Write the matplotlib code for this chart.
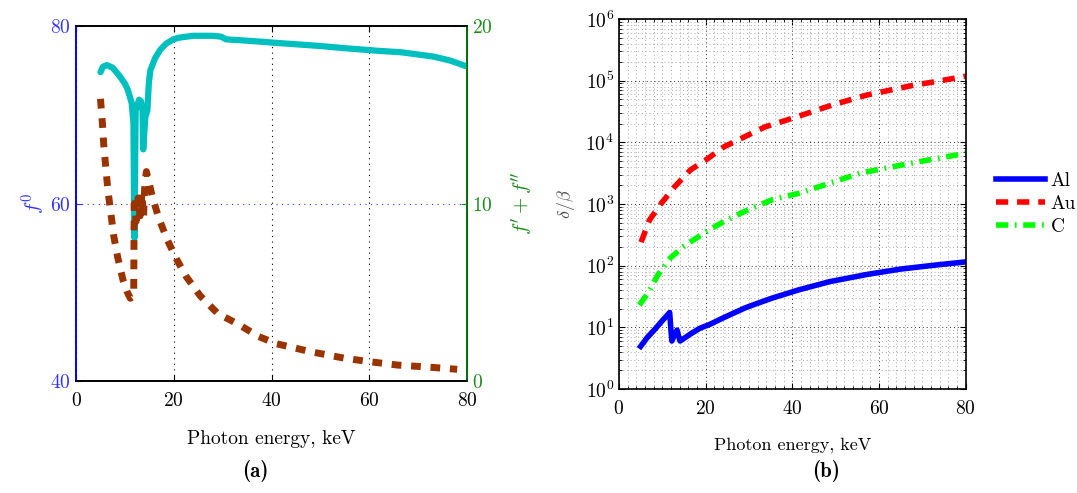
import numpy as np
import matplotlib
matplotlib.use('Agg')
from matplotlib import pyplot as plt
from matplotlib.ticker import MultipleLocator, LogLocator, NullFormatter

plt.rcParams['font.family'] = 'serif'
plt.rcParams['font.serif'] = ['cmr10', 'DejaVu Serif']
plt.rcParams['mathtext.fontset'] = 'cm'
plt.rcParams['axes.formatter.use_mathtext'] = True

# (a) f0 (left axis) and f'+f'' (right axis)
energy_f0 = [5.0, 5.5, 6.3, 7.5, 9.0, 10.0, 10.6, 11.4, 11.75, 11.85, 11.95, 12.05, 12.2,
             12.9, 13.3, 13.6, 13.75, 13.9, 14.2, 14.6, 14.9, 15.2, 16.2, 17.2, 18.4,
             19.9, 21.2, 24.0, 28.0, 29.7, 30.7, 35.0, 41.0, 50.0, 55.0, 62.0, 66.4,
             69.2, 73.2, 76.6, 79.7]
f0 = [74.8, 75.4, 75.6, 75.3, 74.3, 73.5, 72.8, 71.3, 69.0, 62.0, 56.1, 62.0, 70.5,
      71.7, 71.5, 70.5, 66.1, 67.5, 69.8, 70.5, 73.6, 75.0, 76.4, 77.3, 78.0,
      78.5, 78.7, 78.9, 78.9, 78.8, 78.5, 78.35, 78.1, 77.75, 77.5, 77.2, 77.05,
      76.85, 76.55, 76.1, 75.5]

energy_ff = [5.0, 5.4, 5.7, 6.1, 6.5, 7.1, 7.7, 8.5, 9.6, 10.5, 11.1, 11.8, 11.9, 12.3,
             12.7, 13.1, 13.5, 13.8, 14.1, 14.4, 15.0, 15.6, 16.9, 18.6, 20.5, 22.5,
             25.4, 29.0, 33.2, 37.4, 41.0, 48.0, 55.0, 60.0, 65.7, 72.7, 78.0]
ff = [15.9, 14.5, 13.2, 12.0, 10.8, 9.5, 8.2, 7.0, 5.7, 5.0, 4.66, 4.8, 10.0, 9.0,
      10.3, 9.3, 10.6, 9.2, 11.2, 11.8, 11.1, 10.4, 9.2, 8.0, 6.9, 5.9,
      4.8, 3.8, 3.2, 2.5, 2.1, 1.65, 1.28, 1.09, 0.9, 0.77, 0.66]

# (b) delta/beta
energy_al = [5.0, 6.5, 8.3, 10.0, 11.7, 12.0, 12.2, 12.8, 13.4, 13.8, 14.1, 15.0, 16.5,
             18.6, 21.0, 24.3, 29.0, 31.6, 35.3, 41.5, 48.6, 57.2, 65.0, 72.9, 80.0]
al = [4.9, 6.8, 9.3, 12.8, 17.4, 9.0, 6.0, 7.5, 9.0, 7.0, 6.0, 6.6, 7.8,
      9.6, 11.2, 14.5, 20.5, 24.0, 29.7, 40.5, 55.0, 72.0, 88.0, 102.0, 115.0]

energy_au = [5.1, 7.05, 9.8, 12.9, 16.5, 20.0, 24.3, 29.0, 33.7, 40.0, 44.7, 49.4,
             57.2, 63.5, 68.2, 72.9, 77.6, 80.0]
au = [240, 550, 1030, 1920, 3570, 5150, 8500, 12300, 17800, 24500, 31600, 40700,
      58500, 72400, 85000, 96000, 110000, 118000]

energy_c = [4.7, 6.7, 9.0, 11.8, 14.9, 19.6, 24.3, 29.0, 35.3, 41.5, 48.6, 55.6,
            63.5, 71.3, 80.0]
c = [23, 36, 71, 132, 204, 337, 525, 760, 1170, 1490, 2170, 3160, 4060, 5150, 6640]

fig = plt.figure(figsize=(10.77, 4.93), dpi=100)

# ---------- (a) ----------
ax = fig.add_axes([0.0706, 0.2272, 0.363, 0.7200])
ax2 = ax.twinx()

ax.plot(energy_f0, f0, color='#00BFBF', lw=4.5, solid_capstyle='round', zorder=3)
ax2.plot(energy_ff, ff, color='#993300', lw=5, ls=(0, (1.4, 1.4)), zorder=3)

ax.set_xlim(0, 80)
ax.set_ylim(40, 80)
ax2.set_ylim(0, 20)
ax.set_xticks([0, 20, 40, 60, 80])
ax.set_yticks([40, 60, 80])
ax2.set_yticks([0, 10, 20])

ax.xaxis.grid(True, color='k', ls=(0, (1, 4)), lw=0.8)
ax.yaxis.grid(True, color='#3333FF', ls=(0, (1, 4)), lw=0.8)

ax.tick_params(axis='x', direction='in', top=True, length=4, labelsize=14, pad=8)
ax.tick_params(axis='y', direction='in', colors='#3333FF', length=4, labelsize=14)
ax2.tick_params(axis='y', direction='in', colors='#1a8a1a', length=4, labelsize=14)

ax.spines['left'].set_color('#0000FF')
ax2.spines['left'].set_color('#0000FF')
ax2.spines['right'].set_color('#008000')
for a in (ax, ax2):
    for s in a.spines.values():
        s.set_linewidth(1.2)

ax.set_xlabel('Photon energy, keV', fontsize=14, labelpad=14)
ax.set_ylabel('$f^0$', fontsize=15, color='#3333FF', labelpad=2)
ax2.set_ylabel("$f' + f''$", fontsize=15, color='#1a8a1a', labelpad=12)

fig.text(0.237, 0.045, '(a)', fontsize=15, fontfamily='cmb10', ha='center', va='center')

# ---------- (b) ----------
bx = fig.add_axes([0.5747, 0.211, 0.322, 0.7505])

bx.semilogy(energy_al, al, color='#0000FF', lw=4, label='Al')
bx.semilogy(energy_au, au, color='#FF0000', lw=4, ls=(0, (2.2, 1.6)), label='Au')
bx.semilogy(energy_c, c, color='#00FF00', lw=4, ls=(0, (2.2, 1.2, 0.3, 1.2)), label='C')

bx.set_xlim(0, 80)
bx.set_ylim(1, 1e6)
bx.set_xticks([0, 20, 40, 60, 80])
bx.xaxis.set_minor_locator(MultipleLocator(2))
bx.yaxis.set_major_locator(LogLocator(base=10, numticks=10))
bx.yaxis.set_minor_locator(LogLocator(base=10, subs=np.arange(2, 10), numticks=20))
bx.yaxis.set_minor_formatter(NullFormatter())

bx.grid(True, which='major', color='0.2', ls=(0, (1, 3)), lw=0.7)
bx.grid(True, which='minor', color='0.55', ls=(0, (1, 3.5)), lw=0.6)
bx.set_axisbelow(True)

bx.tick_params(which='both', direction='in', top=True, right=True, labelsize=14)
bx.tick_params(which='major', length=4)
bx.tick_params(which='minor', length=2)
bx.tick_params(axis='x', pad=8)
for s in bx.spines.values():
    s.set_linewidth(1.2)

bx.set_xlabel('Photon energy, keV', fontsize=13, labelpad=14)
bx.set_ylabel(r'$\delta/\beta$', fontsize=13, color='0.3', labelpad=6)

bx.legend(loc='center left', bbox_to_anchor=(1.065, 0.5), frameon=False, fontsize=14,
          handlelength=2.5, handletextpad=0.3, labelspacing=0.25, borderaxespad=0)

fig.text(0.767, 0.045, '(b)', fontsize=15, fontfamily='cmb10', ha='center', va='center')

fig.savefig('out.png', dpi=100)
